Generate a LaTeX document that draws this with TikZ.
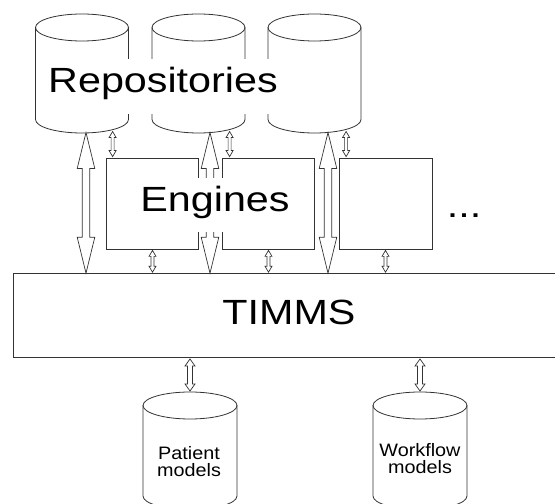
\documentclass[tikz,border=0pt]{standalone}
\usepackage{fontspec}
\setmainfont{Liberation Sans}
\newfontfamily\wf[FakeStretch=1.18]{Liberation Sans}
\newfontfamily\wfs[FakeStretch=1.1]{Liberation Sans}
\usetikzlibrary{calc}
% name, center, width, height, x radius, y radius
\newcommand\dbcyl[6]{%
  \node[cylbody, minimum width=#3pt, minimum height=#4pt] (#1) at (#2) {};
  \draw[ln] (#1.north) ellipse [x radius=#5pt, y radius=#6pt];
  \draw[ln] (#1.north west) -- (#1.south west)
     arc [start angle=180, end angle=360, x radius=#5pt, y radius=#6pt] -- (#1.north east);
}
% top, bottom, shaft half width, head half width, head length
\newcommand\dblarr[5]{%
  \draw[arr] let \p1=(#1), \p2=(#2) in
    (\x1,\y1) -- (\x1+#4pt,\y1-#5pt) -- (\x1+#3pt,\y1-#5pt) -- (\x1+#3pt,\y2+#5pt)
    -- (\x1+#4pt,\y2+#5pt) -- (\x1,\y2) -- (\x1-#4pt,\y2+#5pt) -- (\x1-#3pt,\y2+#5pt)
    -- (\x1-#3pt,\y1-#5pt) -- (\x1-#4pt,\y1-#5pt) -- cycle;
}
\begin{document}
\begin{tikzpicture}[x=1pt,y=1pt,
  ln/.style={draw=black!80, line width=0.8pt},
  ebox/.style={ln, minimum width=92pt, minimum height=91pt, inner sep=0pt},
  cylbody/.style={inner sep=0pt, outer sep=0pt},
  arr/.style={draw=black!80, fill=white, line width=0.7pt, line join=miter},
  bigtxt/.style={font=\wf\fontsize{35}{40}\selectfont, text=black},
  smalltxt/.style={font=\wfs\fontsize{18}{17}\selectfont, align=center, text=black}
]
\useasboundingbox (0,0) rectangle (555,504);
\clip (0,0) rectangle (555,504);
\fill[white] (0,0) rectangle (555,504);

% repositories
\dbcyl{r1}{82,430.5}{93}{92}{46.5}{13.5}
\dbcyl{r2}{198.5,430.5}{93}{92}{46.5}{13.5}
\dbcyl{r3}{314.5,430.5}{93}{92}{46.5}{13.5}

% engines
\node[ebox] (e1) at (152.5,300.5) {};
\node[ebox] (e2) at (268.5,300.5) {};
\node[ebox, minimum width=93pt] (e3) at (385.5,300.5) {};

% TIMMS
\node[ln, minimum width=547pt, minimum height=84pt, inner sep=0pt, anchor=south west] (timms) at (13,146) {};

% model stores
\dbcyl{pm}{190,53.25}{94}{90.5}{47}{13.5}
\dbcyl{wm}{420,53.25}{94}{90.5}{47}{13.5}

% big arrows repository <-> TIMMS
\coordinate (b1t) at ($(r1.south)+(4,-13)$);
\coordinate (b1b) at (b1t |- timms.north);
\coordinate (b2t) at ($(r2.south)+(11.5,-13)$);
\coordinate (b2b) at (b2t |- timms.north);
\coordinate (b3t) at ($(r3.south)+(13.5,-13)$);
\coordinate (b3b) at (b3t |- timms.north);
\dblarr{b1t}{b1b}{3.8}{8.8}{36}
\dblarr{b2t}{b2b}{3.8}{8.8}{36}
\dblarr{b3t}{b3b}{3.8}{8.8}{36}

% small arrows repository <-> engine
\coordinate (s1b) at ($(e1.north west)+(6.5,1)$);
\coordinate (s1t) at ($(s1b |- r1.south)+(0,-12)$);
\coordinate (s2b) at ($(e2.north west)+(7.5,1)$);
\coordinate (s2t) at ($(s2b |- r2.south)+(0,-12)$);
\coordinate (s3b) at ($(e3.north west)+(7.5,1)$);
\coordinate (s3t) at ($(s3b |- r3.south)+(0,-12)$);
\dblarr{s1t}{s1b}{1.5}{3.5}{6}
\dblarr{s2t}{s2b}{1.5}{3.5}{6}
\dblarr{s3t}{s3b}{1.5}{3.5}{6}

% small arrows engine <-> TIMMS
\coordinate (t1t) at ($(e1.south)+(0,-1)$);
\coordinate (t1b) at ($(t1t |- timms.north)+(0,1)$);
\coordinate (t2t) at ($(e2.south)+(0,-1)$);
\coordinate (t2b) at ($(t2t |- timms.north)+(0,1)$);
\coordinate (t3t) at ($(e3.south)+(0,-1)$);
\coordinate (t3b) at ($(t3t |- timms.north)+(0,1)$);
\dblarr{t1t}{t1b}{1.5}{3.5}{6}
\dblarr{t2t}{t2b}{1.5}{3.5}{6}
\dblarr{t3t}{t3b}{1.5}{3.5}{6}

% TIMMS <-> models
\coordinate (p1t) at ($(timms.south -| pm.north)+(0,-1)$);
\coordinate (p1b) at ($(pm.north)+(0,14.5)$);
\coordinate (p2t) at ($(timms.south -| wm.north)+(0,-1)$);
\coordinate (p2b) at ($(wm.north)+(0,14.5)$);
\dblarr{p1t}{p1b}{2.5}{5}{7}
\dblarr{p2t}{p2b}{2.5}{5}{7}

% labels
\node[bigtxt, fill=white, anchor=base, inner xsep=7pt, inner ysep=0pt, text height=34pt, text depth=21pt] (rl) at (163,411) {Repositories};
\node[bigtxt, fill=white, anchor=base, inner xsep=7pt, inner ysep=0pt, text height=34pt, text depth=20pt] (el) at (215,292) {Engines};
\node[bigtxt, anchor=base] (dots) at (464,286) {...};
\node[bigtxt, anchor=base] (tl) at (289,179) {TIMMS};
\node[smalltxt] (pl) at (189,42.5) {Patient\\models};
\node[smalltxt] (wl) at (420,45.5) {Workflow\\models};
\end{tikzpicture}
\end{document}
